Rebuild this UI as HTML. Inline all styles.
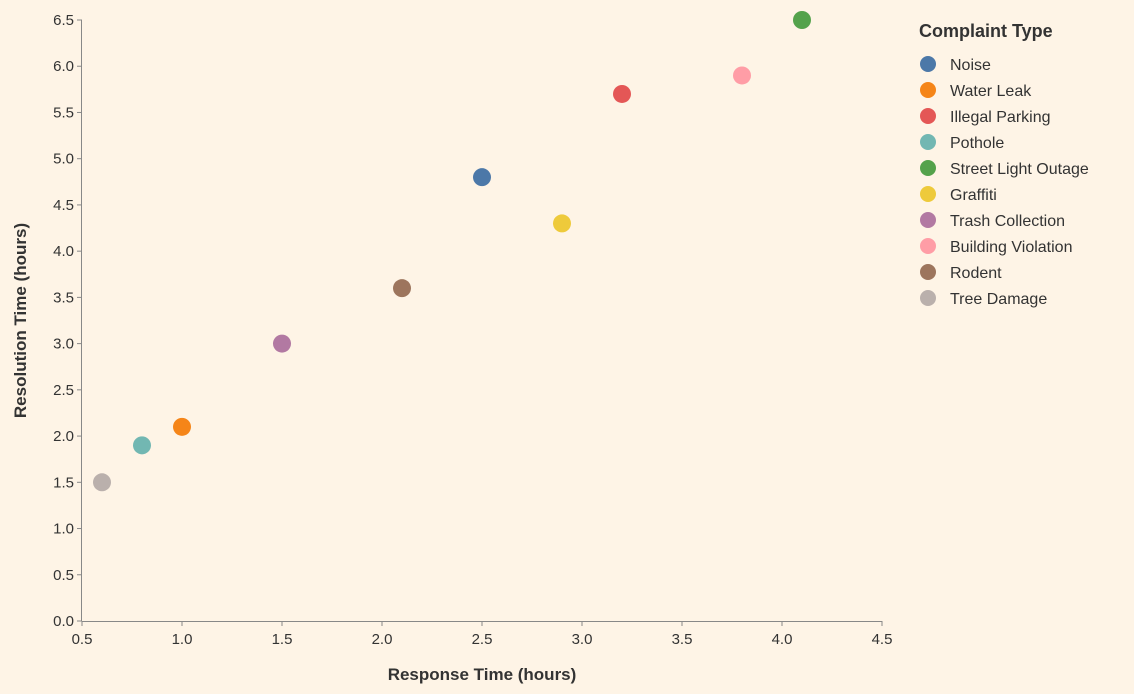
<!DOCTYPE html>
<html><head><meta charset="utf-8"><style>
html,body{margin:0;padding:0;background:#fef4e6;}
svg{display:block;font-family:"Liberation Sans",Arial,sans-serif;}
</style></head><body>
<svg id="chart" width="1134" height="694"></svg>
<script>
const categories=["Noise","Water Leak","Illegal Parking","Pothole","Street Light Outage","Graffiti","Trash Collection","Building Violation","Rodent","Tree Damage"];
const responseTimes=[2.5,1.0,3.2,0.8,4.1,2.9,1.5,3.8,2.1,0.6];
const resolutionTimes=[4.8,2.1,5.7,1.9,6.5,4.3,3.0,5.9,3.6,1.5];
const colors=["#4c78a8","#f58518","#e45756","#72b7b2","#54a24b","#eeca3b","#b279a2","#ff9da6","#9d755d","#bab0ac"];
const xTicks=[0.5,1.0,1.5,2.0,2.5,3.0,3.5,4.0,4.5];
const yTicks=[0,0.5,1,1.5,2,2.5,3,3.5,4,4.5,5,5.5,6,6.5];
const NS="http://www.w3.org/2000/svg";
const svg=document.getElementById("chart");
const X0=82,X1=882,Y0=621,Y1=20;
const xs=v=>X0+(v-0.5)/(4.5-0.5)*(X1-X0);
const ys=v=>Y0-(v/6.5)*(Y0-Y1);
function mk(tag,attrs,parent){const e=document.createElementNS(NS,tag);for(const k in attrs)e.setAttribute(k,attrs[k]);(parent||svg).appendChild(e);return e;}
const xAxis=mk("g",{});


mk("line",{x1:X0,x2:X1,y1:Y0+0.5,y2:Y0+0.5,stroke:"#888"},xAxis);
xTicks.forEach(t=>{const x=xs(t);
mk("line",{x1:x,x2:x,y1:Y0,y2:Y0+5,stroke:"#888"},xAxis);
const tx=mk("text",{x:x,y:Y0+23,"text-anchor":"middle","font-size":"15",fill:"#333"},xAxis);tx.textContent=t.toFixed(1);

});
const xt=mk("text",{x:(X0+X1)/2,y:680,"text-anchor":"middle","font-size":"17","font-weight":"bold",fill:"#333"});
xt.textContent="Response Time (hours)";


const yAxis=mk("g",{});


mk("line",{x1:X0-0.5,x2:X0-0.5,y1:Y1,y2:Y0,stroke:"#888"},yAxis);
yTicks.forEach(t=>{const y=ys(t);
mk("line",{x1:X0-5,x2:X0,y1:y,y2:y,stroke:"#888"},yAxis);
const tx=mk("text",{x:X0-8,y:y+5,"text-anchor":"end","font-size":"15",fill:"#333"},yAxis);tx.textContent=t.toFixed(1);

});
const yt=mk("text",{x:0,y:0,transform:`translate(26,${(Y0+Y1)/2}) rotate(-90)`,"text-anchor":"middle","font-size":"17","font-weight":"bold",fill:"#333"});
yt.textContent="Resolution Time (hours)";


categories.forEach((c,i)=>{
const p=mk("circle",{cx:xs(responseTimes[i]),cy:ys(resolutionTimes[i]),r:9,fill:colors[i]});


});
const lg=mk("g",{});


const lt=mk("text",{x:919,y:37,"font-size":"18","font-weight":"bold",fill:"#333"},lg);lt.textContent="Complaint Type";


categories.forEach((c,i)=>{const y=64+i*26;
const g=mk("g",{},lg);


mk("circle",{cx:928,cy:y,r:8,fill:colors[i]},g);
const t=mk("text",{x:950,y:y+6,"font-size":"16",fill:"#333"},g);t.textContent=c;});
</script>
</body></html>
